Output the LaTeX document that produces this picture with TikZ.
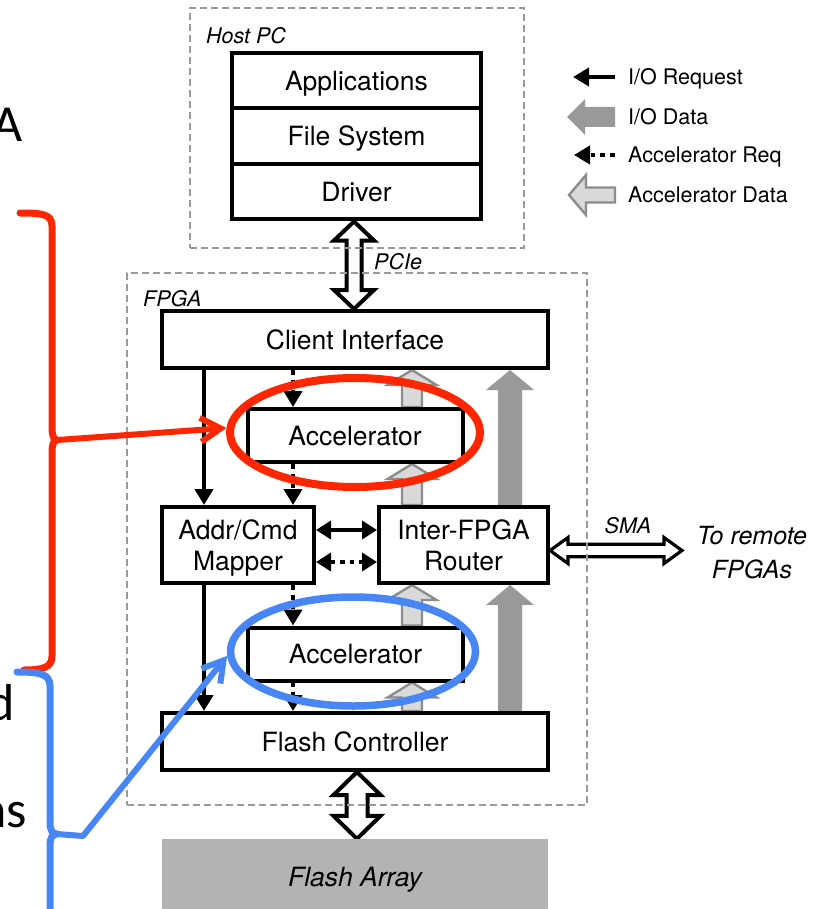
\documentclass[tikz,border=0pt]{standalone}
\usepackage{fontspec}
\setmainfont{TeX Gyre Heros}
\newfontfamily\fragfont{Carlito}
\usetikzlibrary{arrows.meta,calc,shapes.geometric}

\definecolor{iodata}{HTML}{999999}
\definecolor{accfill}{HTML}{D9D9D9}
\definecolor{accline}{HTML}{8C8C8C}
\definecolor{dashgray}{HTML}{9A9A9A}
\definecolor{flashgray}{HTML}{B3B3B3}
\definecolor{notered}{RGB}{255,38,0}
\definecolor{noteblue}{RGB}{72,134,246}

\newcommand\dgLabel{\fontsize{26.5}{31}\selectfont}
\newcommand\dgTag{\fontsize{21.5}{25}\selectfont\itshape}
\newcommand\dgLegend{\fontsize{21.5}{25}\selectfont}
\newcommand\dgRemote{\fontsize{25}{34}\selectfont\itshape}
\newcommand\dgFrag{\fragfont\fontsize{52}{60}\selectfont}

\pgfdeclarelayer{bg}
\pgfsetlayers{bg,main}

% block arrow pointing up: #2 tail, #3 tip, #4 shaft half width, #5 head half width, #6 head length
\newcommand\upblock[6]{%
  \path[#1] let \p1=#2, \p2=#3 in
    (\x1-#4,\y1) -- (\x1-#4,\y2-#6) -- (\x1-#5,\y2-#6) -- (\x1,\y2)
    -- (\x1+#5,\y2-#6) -- (\x1+#4,\y2-#6) -- (\x1+#4,\y1) -- cycle;}
% vertical block arrow with two heads: #2 top tip, #3 bottom tip
\newcommand\vdoubleblock[6]{%
  \path[#1] let \p1=#2, \p2=#3 in
    (\x1,\y1) -- (\x1+#5,\y1-#6) -- (\x1+#4,\y1-#6) -- (\x1+#4,\y2+#6)
    -- (\x1+#5,\y2+#6) -- (\x1,\y2) -- (\x1-#5,\y2+#6) -- (\x1-#4,\y2+#6)
    -- (\x1-#4,\y1-#6) -- (\x1-#5,\y1-#6) -- cycle;}
% horizontal block arrow with two heads: #2 left tip, #3 right tip
\newcommand\hdoubleblock[6]{%
  \path[#1] let \p1=#2, \p2=#3 in
    (\x1,\y1) -- (\x1+#6,\y1+#5) -- (\x1+#6,\y1+#4) -- (\x2-#6,\y1+#4)
    -- (\x2-#6,\y1+#5) -- (\x2,\y1) -- (\x2-#6,\y1-#5) -- (\x2-#6,\y1-#4)
    -- (\x1+#6,\y1-#4) -- (\x1+#6,\y1-#5) -- cycle;}
% block arrow pointing left: #2 tail (right end), #3 tip (left end)
\newcommand\leftblock[6]{%
  \path[#1] let \p1=#2, \p2=#3 in
    (\x1,\y1+#4) -- (\x2+#6,\y1+#4) -- (\x2+#6,\y1+#5) -- (\x2,\y1)
    -- (\x2+#6,\y1-#5) -- (\x2+#6,\y1-#4) -- (\x1,\y1-#4) -- cycle;}

\begin{document}
\begin{tikzpicture}[x=1pt,y=-1pt,
  box/.style={draw=black,line width=4pt,fill=white,inner sep=0pt,font=\dgLabel,
    text height=19pt,text depth=0pt,align=center},
  twoline/.style={text height=50pt,text depth=0pt},
  frame/.style={draw=dashgray,line width=2.2pt,dash pattern=on 7pt off 4pt,inner sep=0pt},
  ioreq/.style={line width=4pt,-{Triangle[length=16pt,width=18pt]}},
  ioreqboth/.style={line width=4pt,{Triangle[length=15pt,width=18pt]}-{Triangle[length=15pt,width=18pt]}},
  accreq/.style={line width=4.8pt,dash pattern=on 4.8pt off 5pt,-{Triangle[length=16pt,width=18pt]}},
  accreqboth/.style={line width=4.8pt,dash pattern=on 4.8pt off 5pt,
    {Triangle[length=15pt,width=18pt]}-{Triangle[length=15pt,width=18pt]}},
  iodatastyle/.style={fill=iodata},
  accdata/.style={fill=accfill,draw=accline,line width=2.4pt,line join=miter},
  hollow/.style={fill=white,draw=black,line width=4pt,line join=miter},
  smastyle/.style={fill=white,draw=black,line width=3.2pt,line join=miter},
  tag/.style={font=\dgTag,inner sep=0pt,text height=15pt,text depth=0pt},
  legendtext/.style={font=\dgLegend,inner sep=0pt,text height=15.5pt,text depth=0pt,anchor=west},
  frag/.style={font=\dgFrag,inner sep=0pt,anchor=base east},
  redpen/.style={draw=notered,line width=7pt,line cap=round,line join=round},
  bluepen/.style={draw=noteblue,line width=7pt,line cap=round,line join=round},
  notehead/.style={-{Straight Barb[length=20pt,width=24pt]},line width=6pt}]

\useasboundingbox (0,0) rectangle (827,909);
\clip (0,0) rectangle (827,909);

% host software stack
\node[box,minimum width=249pt,minimum height=55.5pt] (app) at (356.5,80.75) {Applications};
\node[box,minimum width=249pt,minimum height=55.5pt] (fs) at (356.5,136.25) {File System};
\node[box,minimum width=249pt,minimum height=55.5pt] (drv) at (356.5,191.75) {Driver};

% FPGA blocks
\node[box,minimum width=386pt,minimum height=57pt] (ci) at (355,339.5) {Client Interface};
\node[box,minimum width=215pt,minimum height=53pt] (acc1) at (355,435.5) {Accelerator};
\node[box,twoline,minimum width=152pt,minimum height=76pt] (map) at (238,545) {Addr/Cmd\\Mapper};
\node[box,twoline,minimum width=169pt,minimum height=76pt] (rtr) at (463.5,545) {Inter-FPGA\\Router};
\node[box,minimum width=215pt,minimum height=53pt] (acc2) at (355.5,654) {Accelerator};
\node[box,minimum width=386pt,minimum height=57pt] (fc) at (355,741.5) {Flash Controller};
\node[fill=flashgray,minimum width=386pt,minimum height=76pt,inner sep=0pt,
  font=\dgLabel\itshape,text height=19pt,text depth=0pt] (fa) at (355,877) {Flash Array};

% lanes of the vertical connectors
\coordinate (reqLane) at (204,0);
\coordinate (accLane) at (293,0);
\coordinate (adLane) at (412,0);
\coordinate (ioLane) at (510,0);
\coordinate (pcieLane) at (354,0);
\coordinate (flashLane) at (357,0);
\coordinate (busA) at (0,530);
\coordinate (busB) at (0,562);
\coordinate (remoteEnd) at (682,550.5);

\begin{pgfonlayer}{bg}
  \fill[white] (0,0) rectangle (827,909);
  % I/O requests
  \draw[ioreq] (ci.south -| reqLane) -- (map.north -| reqLane);
  \draw[ioreq] (map.south -| reqLane) -- (fc.north -| reqLane);
  % accelerator requests
  \draw[accreq] (ci.south -| accLane) -- (acc1.north -| accLane);
  \draw[accreq] (acc1.south -| accLane) -- (map.north -| accLane);
  \draw[accreq] (map.south -| accLane) -- (acc2.north -| accLane);
  \draw[accreq] (acc2.south -| accLane) -- (fc.north -| accLane);
  % mapper <-> router
  \draw[ioreqboth] (map.east |- busA) -- (rtr.west |- busA);
  \draw[accreqboth] (map.east |- busB) -- (rtr.west |- busB);
  % accelerator data
  \upblock{accdata}{(acc1.north -| adLane)}{(ci.south -| adLane)}{10pt}{24.5pt}{15pt}
  \upblock{accdata}{(rtr.north -| adLane)}{(acc1.south -| adLane)}{10pt}{24.5pt}{15pt}
  \upblock{accdata}{(acc2.north -| adLane)}{(rtr.south -| adLane)}{10pt}{24.5pt}{15pt}
  \upblock{accdata}{(fc.north -| adLane)}{(acc2.south -| adLane)}{10pt}{24.5pt}{15pt}
  % I/O data
  \upblock{iodatastyle}{(rtr.north -| ioLane)}{(ci.south -| ioLane)}{12pt}{24pt}{20pt}
  \upblock{iodatastyle}{(fc.north -| ioLane)}{(rtr.south -| ioLane)}{12pt}{24pt}{20pt}
  % external links
  \vdoubleblock{hollow}{(drv.south -| pcieLane)}{(ci.north -| pcieLane)}{7.5pt}{20pt}{19pt}
  \vdoubleblock{hollow}{(fc.south -| flashLane)}{(fa.north -| flashLane)}{10.5pt}{23.5pt}{23pt}
  \hdoubleblock{smastyle}{(rtr.east |- remoteEnd)}{(remoteEnd)}{6.25pt}{13pt}{18pt}
\end{pgfonlayer}

% dashed enclosures
\node[frame,minimum width=334pt,minimum height=240pt] (hostFrame) at (357,128) {};
\node[frame,minimum width=460pt,minimum height=532pt] (fpgaFrame) at (357,539) {};

% labels
\node[tag,anchor=west] (hostTag) at (206,36) {Host PC};
\node[tag,anchor=west] (fpgaTag) at (143,299) {FPGA};
\node[tag,anchor=west] (pcieTag) at (374,262) {PCIe};
\node[tag] (smaTag) at (628,526) {SMA};
\node[font=\dgRemote,align=center,inner sep=0pt,text height=52pt,text depth=0pt]
  (remoteTag) at (752,552) {To remote\\FPGAs};

% legend
\coordinate (lgReqTail) at (615,77);   \coordinate (lgReqTip) at (573,77);
\coordinate (lgDataTail) at (615,117); \coordinate (lgDataTip) at (567,117);
\coordinate (lgAccTail) at (615,155);  \coordinate (lgAccTip) at (574,155);
\coordinate (lgAdTail) at (615,195);   \coordinate (lgAdTip) at (569,195);
\draw[ioreq] (lgReqTail) -- (lgReqTip);
\leftblock{iodatastyle}{(lgDataTail)}{(lgDataTip)}{10pt}{18pt}{18pt}
\draw[accreq] (lgAccTail) -- (lgAccTip);
\leftblock{accdata}{(lgAdTail)}{(lgAdTip)}{7.5pt}{20pt}{17pt}
\node[legendtext] (lgReqTxt) at (628,77) {I/O Request};
\node[legendtext] (lgDataTxt) at (628,117) {I/O Data};
\node[legendtext] (lgAccTxt) at (628,155) {Accelerator Req};
\node[legendtext] (lgAdTxt) at (628,195) {Accelerator Data};

% slide text at the left edge
\node[frag] (fragA) at (23,142) {A};
\node[frag] (fragD) at (15,720) {d};
\node[frag] (fragNs) at (27,827) {ns};

% highlight rings
\node[draw=notered,line width=8pt,ellipse,minimum width=250pt,minimum height=109pt,inner sep=0pt]
  (hiRed) at (355,432.5) {};
\node[draw=noteblue,line width=7.5pt,ellipse,minimum width=245pt,minimum height=109pt,inner sep=0pt]
  (hiBlue) at (353,651.5) {};

% braces with pointers
\coordinate (redCusp) at (57,440);
\coordinate (blueCusp) at (57,834);
\coordinate (blueBend) at (83,836);
\draw[redpen] (20,213) .. controls (42,213) and (52,214) .. (52,226) -- (52,428)
  .. controls (52,436) and (54,440) .. (redCusp)
  .. controls (54,440) and (52,444) .. (52,452) -- (52,656)
  .. controls (52,667) and (44,670) .. (24,670);
\draw[redpen,notehead] (redCusp) -- (hiRed.178);
\draw[bluepen] (17,672) .. controls (40,672) and (50,674) .. (50,686) -- (50,822)
  .. controls (50,830) and (52,834) .. (blueCusp)
  .. controls (52,834) and (50,838) .. (50,846) -- (50,915);
\draw[bluepen,notehead] (blueCusp) -- (blueBend) -- (hiBlue.182);

\end{tikzpicture}
\end{document}
